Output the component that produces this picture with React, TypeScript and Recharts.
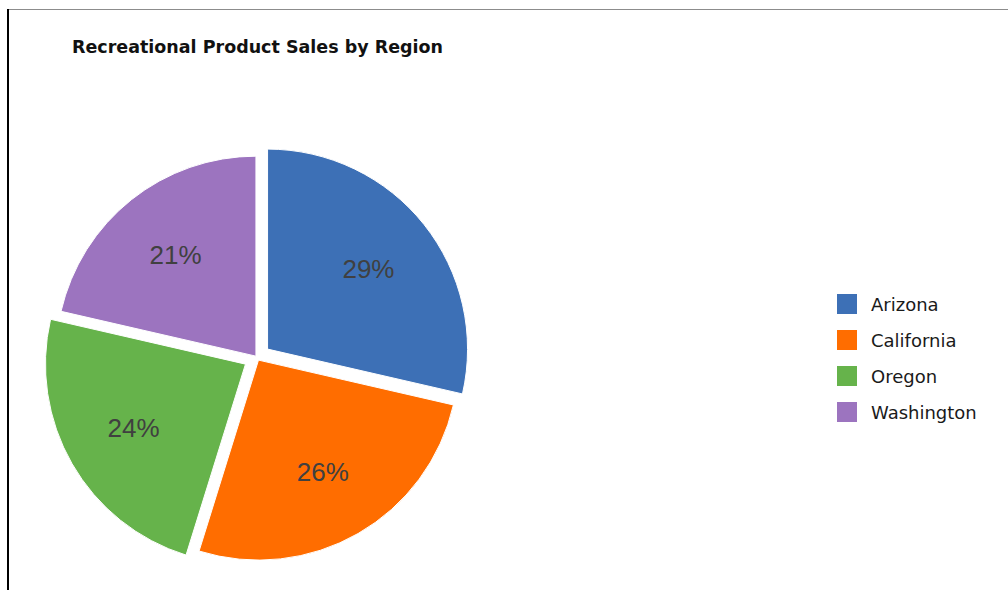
import { PieChart, Pie, Cell, Sector, Legend } from 'recharts'

const regions = ['Arizona', 'California', 'Oregon', 'Washington']
const sales = [28.6, 26.2, 23.8, 21.4]
const colors = ['#3D70B6', '#FF6D00', '#66B34B', '#9C74BF']

const data = regions.map((name, i) => ({ name, value: sales[i] }))

const RADIAN = Math.PI / 180
// how far each slice is pulled out from the centre (px)
const explode = [13.5, 3, 13.3, 1.7]

const offsetFor = (props: any) => {
    const name = props.payload?.name ?? props.name
    const i = regions.indexOf(name)
    const d = i >= 0 ? explode[i] : 0
    return {
        d,
        dx: d * Math.cos(-props.midAngle * RADIAN),
        dy: d * Math.sin(-props.midAngle * RADIAN),
    }
}

const ExplodedSector = (props: any) => {
    const { cx, cy, innerRadius, outerRadius, startAngle, endAngle, fill } = props
    const { dx, dy } = offsetFor(props)
    return (
        <Sector
            cx={cx + dx}
            cy={cy + dy}
            innerRadius={innerRadius}
            outerRadius={outerRadius}
            startAngle={startAngle}
            endAngle={endAngle}
            fill={fill}
            stroke="#fff"
            strokeWidth={1}
        />
    )
}

const renderLabel = (props: any) => {
    const { cx, cy, midAngle, outerRadius, percent } = props
    const { d } = offsetFor(props)
    const r = d + outerRadius * 0.645
    const x = cx + r * Math.cos(-midAngle * RADIAN)
    const y = cy + r * Math.sin(-midAngle * RADIAN)
    return (
        <text
            x={x}
            y={y}
            textAnchor="middle"
            dominantBaseline="central"
            fill="#404040"
            fontSize={26}
            fontFamily="'Liberation Sans', Arial, sans-serif"
        >
            {`${Math.round(percent * 100)}%`}
        </text>
    )
}

const renderLegend = ({ payload }: any) => (
    <div style={{ fontFamily: "'DejaVu Sans', sans-serif", fontSize: 18, color: '#1a1a1a' }}>
        {(payload || []).map((entry: any) => (
            <div key={entry.value} style={{ display: 'flex', alignItems: 'center', height: 36 }}>
                <span style={{ width: 20, height: 20, background: entry.color, marginRight: 14, display: 'inline-block' }} />
                <span>{entry.value}</span>
            </div>
        ))}
    </div>
)

export default function App() {
    return (
        <div style={{ position: 'absolute', left: 0, top: 0, width: 1008, height: 590, background: '#fff' }}>
            <div style={{ position: 'absolute', left: 7, top: 9, width: 1001, height: 1, background: '#8c8c8c' }} />
            <div style={{ position: 'absolute', left: 7, top: 9, width: 1.5, height: 581, background: '#000' }} />
            <svg style={{ position: 'absolute', left: 0, top: 0 }} width={1008} height={70}>
                <text
                    x={72}
                    y={53}
                    fontFamily="'DejaVu Sans', sans-serif"
                    fontWeight="bold"
                    fontSize={17.5}
                    fill="#111"
                    textLength={371}
                    lengthAdjust="spacingAndGlyphs"
                >
                    Recreational Product Sales by Region
                </text>
            </svg>
            <div style={{ position: 'absolute', left: 0, top: 0 }}>
                <PieChart width={1008} height={590} margin={{ top: 0, right: 0, bottom: 0, left: 0 }}>
                    <Pie
                        data={data}
                        dataKey="value"
                        nameKey="name"
                        cx={257}
                        cy={357.5}
                        outerRadius={200}
                        startAngle={90}
                        endAngle={-270}
                        shape={ExplodedSector}
                        activeShape={ExplodedSector}
                        inactiveShape={ExplodedSector}
                        label={renderLabel}
                        labelLine={false}
                        isAnimationActive={false}
                    >
                        {data.map((d, i) => (
                            <Cell key={d.name} fill={colors[i]} />
                        ))}
                    </Pie>
                    <Legend
                        layout="vertical"
                        align="right"
                        verticalAlign="middle"
                        content={renderLegend}
                        wrapperStyle={{ position: 'absolute', left: 837, top: 286, width: 170 }}
                    />
                </PieChart>
            </div>
        </div>
    )
}
